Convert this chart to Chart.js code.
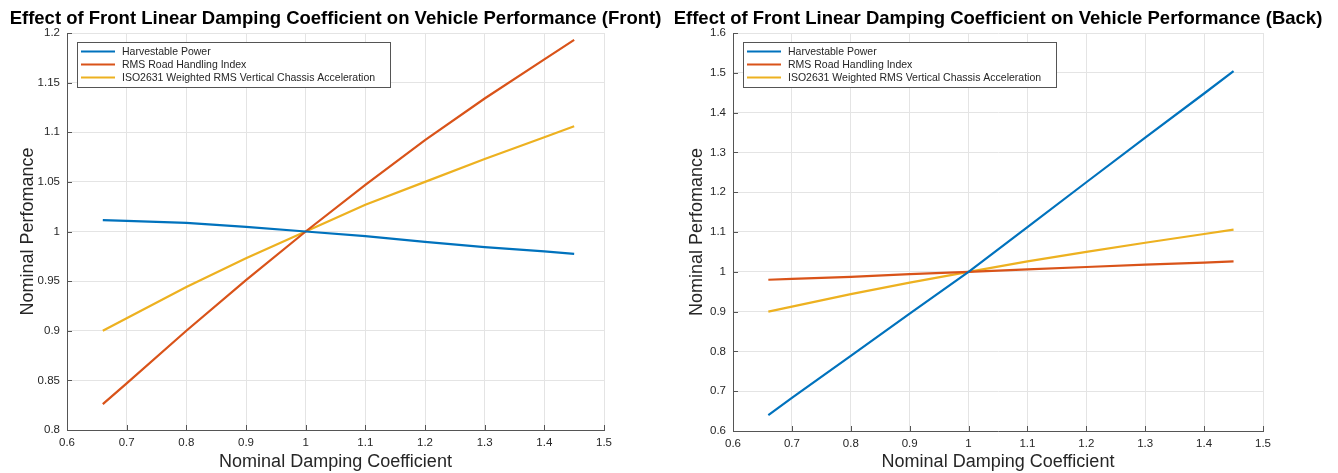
<!DOCTYPE html>
<html>
<head>
<meta charset="utf-8">
<script src="https://cdn.jsdelivr.net/npm/chart.js@4.4.1/dist/chart.umd.min.js"></script>
<style>
  html, body { margin: 0; padding: 0; background: #ffffff; }
  #wrap { position: relative; width: 1338px; height: 473px; overflow: hidden; }
  canvas { position: absolute; top: 0; }
  #c1 { left: 0; }
  #c2 { left: 669px; }
</style>
</head>
<body>
<div id="wrap">
  <canvas id="c1" width="669" height="473"></canvas>
  <canvas id="c2" width="669" height="473"></canvas>
</div>
<script>
// ---- data ----
const dampingX = [0.66, 0.7, 0.8, 0.9, 1.0, 1.1, 1.2, 1.3, 1.4, 1.45];
const seriesNames = ["Harvestable Power", "RMS Road Handling Index", "ISO2631 Weighted RMS Vertical Chassis Acceleration"];
const seriesColors = ["#0072BD", "#D95319", "#EDB120"];

const frontHarvest = [1.0115, 1.0107, 1.0087, 1.0047, 1.0, 0.9953, 0.9896, 0.9842, 0.9800, 0.9775];
const frontRMS     = [0.826, 0.847, 0.900, 0.951, 1.0, 1.047, 1.092, 1.134, 1.1735, 1.193];
const frontISO     = [0.900, 0.9125, 0.944, 0.973, 1.0, 1.027, 1.050, 1.073, 1.095, 1.106];

const backHarvest  = [0.640, 0.683, 0.789, 0.895, 1.0, 1.112, 1.225, 1.337, 1.448, 1.504];
const backRMS      = [0.980, 0.982, 0.987, 0.994, 1.0, 1.006, 1.012, 1.018, 1.023, 1.026];
const backISO      = [0.900, 0.9125, 0.944, 0.973, 1.0, 1.026, 1.050, 1.073, 1.095, 1.106];

const xTicksMin = 0.6, xTicksMax = 1.5, xStep = 0.1;
const frontYMin = 0.8, frontYMax = 1.2, frontYStep = 0.05;
const backYMin = 0.6, backYMax = 1.6, backYStep = 0.1;

const titleFront = "Effect of Front Linear Damping Coefficient on Vehicle Performance (Front)";
const titleBack  = "Effect of Front Linear Damping Coefficient on Vehicle Performance (Back)";
const xTitle = "Nominal Damping Coefficient";
const yTitle = "Nominal Perfomance";

// ---- helpers ----
const FONT = "'Liberation Sans', Arial, Helvetica, sans-serif";
const TXT = "#262626";

function pts(ys) { return dampingX.map((x, i) => ({ x: x, y: ys[i] })); }
function fmt(v) { return String(Number(Number(v).toFixed(4))); }

const titlePlugin = {
  id: 'plotTitle',
  afterDraw(chart, args, opts) {
    const ctx = chart.ctx, a = chart.chartArea;
    ctx.save();
    ctx.font = "bold 18.5px " + FONT;
    ctx.fillStyle = "#000";
    ctx.textAlign = "center";
    ctx.textBaseline = "middle";
    ctx.fillText(opts.text, (a.left + a.right) / 2, 19);
    ctx.restore();
  }
};

const tickMarkPlugin = {
  id: 'innerTicks',
  afterDraw(chart) {
    const ctx = chart.ctx, a = chart.chartArea;
    const xs = chart.scales.x, ys = chart.scales.y;
    ctx.save();
    ctx.strokeStyle = "#555";
    ctx.lineWidth = 1;
    ctx.beginPath();
    xs.ticks.forEach(t => {
      const px = Math.round(xs.getPixelForValue(t.value)) + 0.5;
      ctx.moveTo(px, a.bottom); ctx.lineTo(px, a.bottom - 5);
    });
    ys.ticks.forEach(t => {
      const py = Math.round(ys.getPixelForValue(t.value)) + 0.5;
      ctx.moveTo(a.left, py); ctx.lineTo(a.left + 5, py);
    });
    ctx.stroke();
    ctx.restore();
  }
};

const boxLegendPlugin = {
  id: 'boxLegend',
  afterDatasetsDraw(chart) {
    const ctx = chart.ctx, a = chart.chartArea;
    const ds = chart.data.datasets;
    ctx.save();
    ctx.font = "10.5px " + FONT;
    let maxW = 0;
    ds.forEach(d => { maxW = Math.max(maxW, ctx.measureText(d.label).width); });
    const bx = a.left + 10, by = a.top + 9;
    const bw = Math.round(55 + maxW + 5), bh = 45;
    ctx.fillStyle = "#fff";
    ctx.fillRect(bx, by, bw, bh);
    ctx.strokeStyle = "#555";
    ctx.lineWidth = 1;
    ctx.strokeRect(bx + 0.5, by + 0.5, bw, bh);
    ds.forEach((d, i) => {
      const cy = by + 9.5 + i * 13;
      ctx.strokeStyle = d.borderColor;
      ctx.lineWidth = 2.2;
      ctx.beginPath();
      ctx.moveTo(bx + 4, cy); ctx.lineTo(bx + 38, cy);
      ctx.stroke();
      ctx.fillStyle = TXT;
      ctx.textAlign = "left";
      ctx.textBaseline = "middle";
      ctx.fillText(d.label, bx + 45, cy + 0.5);
    });
    ctx.restore();
  }
};

function makeChart(id, title, ys, yMin, yMax, yStep, yWidth, xHeight, padRight) {
  const datasets = ys.map((arr, i) => ({
    label: seriesNames[i],
    data: pts(arr),
    borderColor: seriesColors[i],
    backgroundColor: seriesColors[i],
    borderWidth: 2.2,
    pointRadius: 0,
    tension: 0,
    fill: false
  }));
  return new Chart(document.getElementById(id), {
    type: 'line',
    data: { datasets: datasets },
    plugins: [titlePlugin, tickMarkPlugin, boxLegendPlugin],
    options: {
      responsive: false,
      animation: false,
      layout: { padding: { top: 33, right: padRight, bottom: 0, left: 0 } },
      plugins: {
        legend: { display: false },
        tooltip: { enabled: false },
        plotTitle: { text: title }
      },
      scales: {
        x: {
          type: 'linear',
          min: xTicksMin, max: xTicksMax,
          afterFit(s) { s.height = xHeight; },
          ticks: { stepSize: xStep, padding: 6, color: TXT, font: { family: FONT, size: 11.5 }, maxRotation: 0, callback: v => fmt(v) },
          grid: { color: "#e4e4e4", drawTicks: false },
          border: { color: "#555", width: 1 },
          title: { display: true, text: xTitle, color: TXT, font: { family: FONT, size: 18 }, padding: { top: 0, bottom: 0 } }
        },
        y: {
          type: 'linear',
          min: yMin, max: yMax,
          afterFit(s) { s.width = yWidth; },
          ticks: { stepSize: yStep, padding: 7, color: TXT, font: { family: FONT, size: 11.5 }, callback: v => fmt(v) },
          grid: { color: "#e4e4e4", drawTicks: false },
          border: { color: "#555", width: 1 },
          title: { display: true, text: yTitle, color: TXT, font: { family: FONT, size: 18 }, padding: { top: 17, bottom: 0 } }
        }
      }
    }
  });
}

makeChart('c1', titleFront, [frontHarvest, frontRMS, frontISO], frontYMin, frontYMax, frontYStep, 67, 43, 65);
makeChart('c2', titleBack, [backHarvest, backRMS, backISO], backYMin, backYMax, backYStep, 64, 42, 75);
</script>
</body>
</html>
